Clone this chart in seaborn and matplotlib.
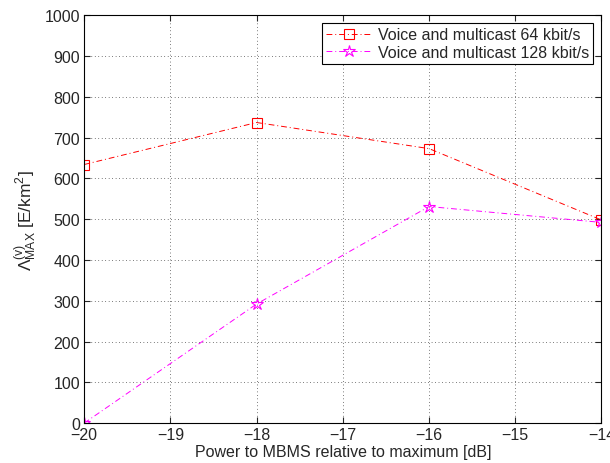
import numpy as np
import pandas as pd
import matplotlib
matplotlib.use('Agg')
import matplotlib.pyplot as plt
import seaborn as sns

# data
power_db = [-20, -18, -16, -14]
voice_64 = [634, 737, 673, 498]
voice_128 = [0, 292, 531, 492]
labels = ['Voice and multicast 64 kbit/s', 'Voice and multicast 128 kbit/s']

sns.set_style('ticks')
plt.rcParams['font.family'] = ['Liberation Sans', 'DejaVu Sans']
plt.rcParams['mathtext.fontset'] = 'custom'
plt.rcParams['mathtext.rm'] = 'Liberation Sans'
plt.rcParams['mathtext.it'] = 'Liberation Sans'
plt.rcParams['mathtext.default'] = 'regular'

fig = plt.figure(figsize=(6.1, 4.64), dpi=100)
ax = fig.add_axes([0.138, 0.086, 0.848, 0.879])

sns.lineplot(x=power_db, y=voice_64, ax=ax, color='red', linestyle=(0, (6, 3, 1, 3)), linewidth=0.7,
             marker='s', markersize=6.5, markerfacecolor='none', markeredgecolor='red',
             markeredgewidth=0.8, label=labels[0])
sns.lineplot(x=power_db, y=voice_128, ax=ax, color='magenta', linestyle=(0, (6, 3, 1, 3)), linewidth=0.7,
             marker='*', markersize=9, markerfacecolor='none', markeredgecolor='magenta',
             markeredgewidth=0.8, label=labels[1])

ax.set_xlim(-20, -14)
ax.set_ylim(0, 1000)
ax.set_xticks(np.arange(-20, -13, 1))
ax.set_yticks(np.arange(0, 1001, 100))
ax.set_xticklabels(['\u2212%d' % abs(v) for v in range(-20, -13)])
ax.grid(True, color='black', linestyle=(0, (1, 4)), linewidth=0.5)
ax.tick_params(direction='in', length=4, width=0.8, labelsize=11.5, top=True, right=True, pad=3)
for s in ax.spines.values():
    s.set_visible(True)
    s.set_linewidth(0.8)
    s.set_color('black')

ax.set_xlabel('Power to MBMS relative to maximum [dB]', fontsize=11.5, labelpad=1)
ax.set_ylabel(r'$\mathrm{\Lambda}^{(v)}_{MAX}$ [E/km$^2$]', fontsize=12.5, labelpad=4)

leg = ax.legend(loc='upper right', fontsize=11.5, frameon=True, fancybox=False,
                edgecolor='black', framealpha=1, handlelength=2.9, handletextpad=0.4,
                borderaxespad=0.5, borderpad=0.25, labelspacing=0.15)
leg.get_frame().set_linewidth(0.8)

fig.savefig('out.png', dpi=100)
